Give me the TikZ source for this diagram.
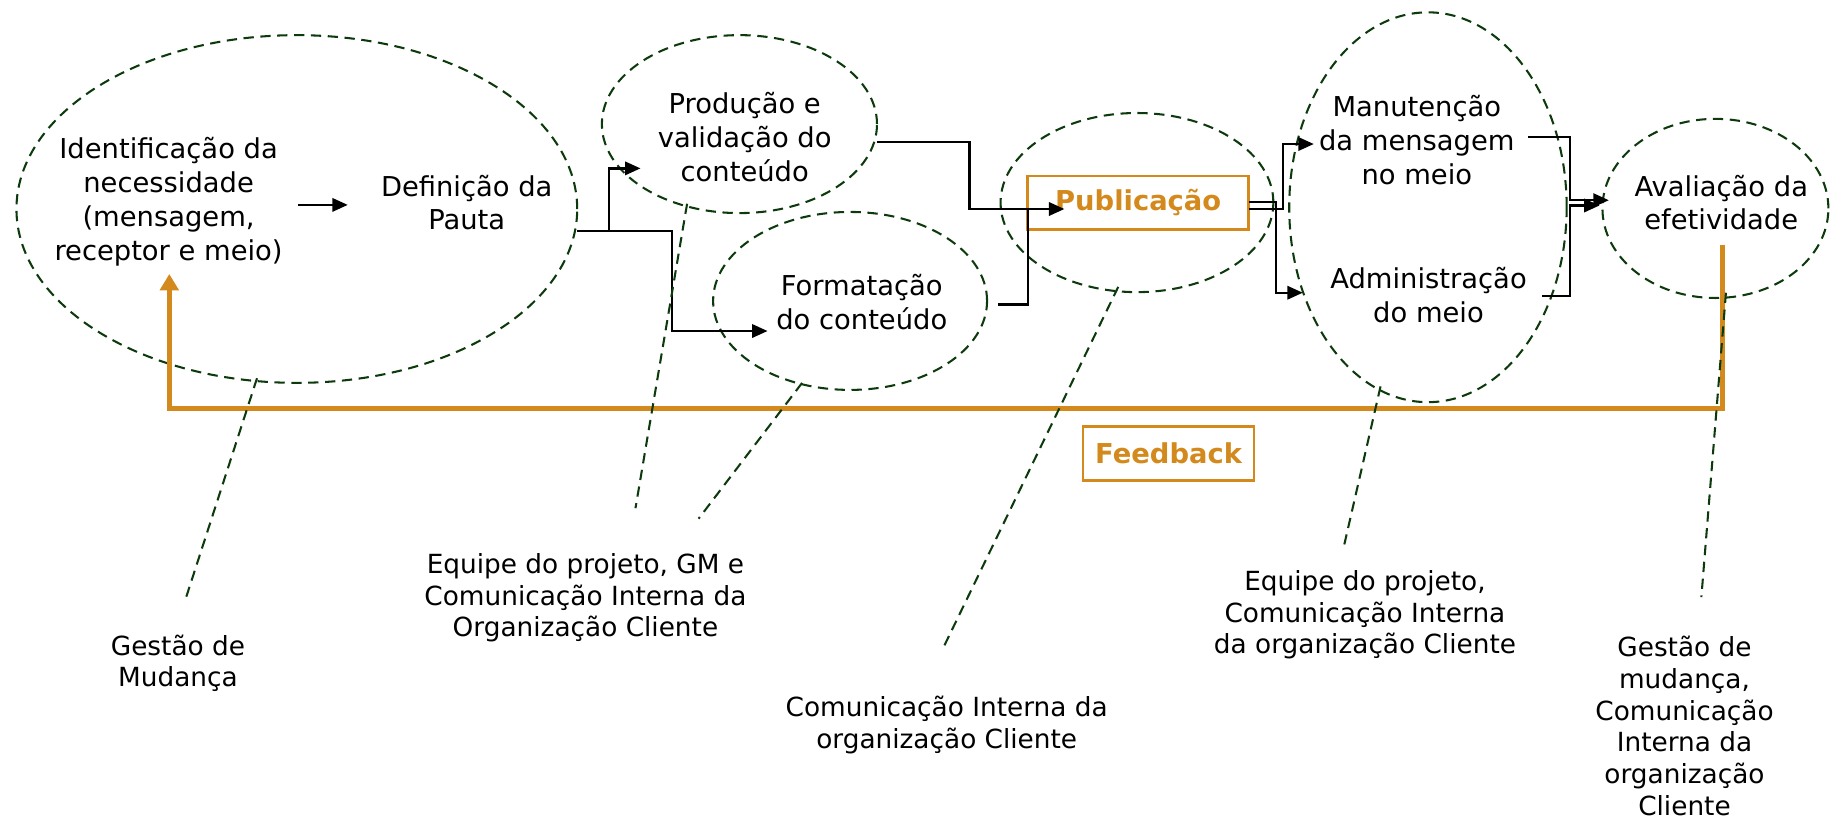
\documentclass[tikz,border=0pt]{standalone}
\usepackage{fontspec}
\setmainfont{DejaVu Sans}
\usetikzlibrary{shapes.geometric,arrows.meta}
\definecolor{orng}{RGB}{211,137,27}
\definecolor{dkgreen}{RGB}{12,58,12}
\newcommand{\topfs}{\fontsize{13.3pt}{16.5pt}\selectfont}
\newcommand{\botfs}{\fontsize{12.8pt}{15.4pt}\selectfont}
\tikzset{
  grp/.style={ellipse, draw=dkgreen, line width=1pt, dash pattern=on 5pt off 3.2pt, inner sep=0pt},
  txt/.style={align=center, inner sep=0pt, font=\topfs, text=black},
  btxt/.style={align=center, inner sep=0pt, font=\botfs, text=black},
  conn/.style={draw=black, line width=1.1pt, -{Triangle[length=7.5pt,width=6.5pt]}},
  wire/.style={draw=black, line width=1.1pt},
  lead/.style={draw=dkgreen, line width=1pt, dash pattern=on 5pt off 3.2pt},
  fbline/.style={draw=orng, line width=2.4pt, -{Triangle[length=8pt,width=9pt]}},
  obox/.style={draw=orng, line width=1.3pt, text=orng, font=\topfs\bfseries, inner sep=0pt},
}
\begin{document}
\begin{tikzpicture}[x=0.02cm,y=-0.02cm]
\useasboundingbox (0,0) rectangle (1568,699);

% group ellipses
\node[grp, minimum width=9.58cm, minimum height=5.94cm] (e1) at (253.5,178.5) {};
\node[grp, minimum width=4.70cm, minimum height=3.04cm] (e2) at (631.5,106) {};
\node[grp, minimum width=4.68cm, minimum height=3.04cm] (e3) at (726,257) {};
\node[grp, minimum width=4.66cm, minimum height=3.06cm] (e4) at (971,173) {};
\node[grp, minimum width=4.74cm, minimum height=6.66cm] (e5) at (1219.5,177) {};
\node[grp, minimum width=3.86cm, minimum height=3.06cm] (e6) at (1465,178) {};

% step texts
\node[txt] (tIdent) at (144,172) {Identificação da\\necessidade\\(mensagem,\\receptor e meio)};
\node[txt] (tDef) at (398.6,173) {Definição da\\Pauta};
\node[txt] (tProd) at (636,117) {Produção e\\validação do\\conteúdo};
\node[txt] (tForm) at (736,258) {Formatação\\do conteúdo};
\node[obox, minimum width=3.776cm, minimum height=0.91cm] (pub) at (972,173) {Publicação};
\node[txt] (tMan) at (1210,119.5) {Manutenção\\da mensagem\\no meio};
\node[txt] (tAdm) at (1220,252) {Administração\\do meio};
\node[txt] (tAval) at (1470,173) {Avaliação da\\efetividade};

% connector points
\coordinate (a1) at (254.7,175);
\coordinate (a2) at (297,175);
\coordinate (j1) at (493,197);
\coordinate (j2) at (520,197);
\coordinate (j3) at (574,197);
\coordinate (p1) at (547,143.8);
\coordinate (f1) at (655.5,282.7);
\coordinate (q1) at (749,121);
\coordinate (q2) at (828,121);
\coordinate (pin) at (909,178.5);
\coordinate (r1) at (852.6,260);
\coordinate (r2) at (877.7,178.5);
\coordinate (u1) at (1066.5,172.8);
\coordinate (u2) at (1089.8,172.8);
\coordinate (adin) at (1112.6,250);
\coordinate (w1) at (1066.5,178.5);
\coordinate (w2) at (1095.8,178.5);
\coordinate (manin) at (1122,123);
\coordinate (m1) at (1305,116.7);
\coordinate (m2) at (1341,171);
\coordinate (av1) at (1374,171);
\coordinate (d1) at (1317,252.8);
\coordinate (d2) at (1341,175.5);
\coordinate (av2) at (1366,175.5);

\draw[conn] (a1) -- (a2);
\draw[conn] (j1) -- (j3) |- (f1);
\draw[conn] (j2) |- (p1);
\draw[conn] (q1) -- (q2) |- (pin);
\draw[wire] (r1) -| (r2);
\draw[conn] (u1) -- (u2) |- (adin);
\draw[conn] (w1) -- (w2) |- (manin);
\draw[conn] (m1) -| (m2) -- (av1);
\draw[conn] (d1) -| (d2) -- (av2);

% feedback loop
\coordinate (fb0) at (1470.8,209);
\coordinate (fb1) at (1470.8,348.8);
\coordinate (fb2) at (144.6,348.8);
\coordinate (fb3) at (144.6,234);
\draw[fbline] (fb0) -- (fb1) -- (fb2) -- (fb3);
\node[obox, minimum width=2.92cm, minimum height=0.93cm] (fbbox) at (998,387.3) {Feedback};

% responsible labels
\node[btxt] (l1) at (152,566.6) {Gestão de\\Mudança};
\node[btxt] (l2) at (500,510.5) {Equipe do projeto, GM e\\Comunicação Interna da\\Organização Cliente};
\node[btxt] (l3) at (808.5,619) {Comunicação Interna da\\organização Cliente};
\node[btxt] (l4) at (1165.7,525) {Equipe do projeto,\\Comunicação Interna\\da organização Cliente};
\node[btxt] (l5) at (1438.6,620) {Gestão de\\mudança,\\Comunicação\\Interna da\\organização\\Cliente};

% leader lines
\coordinate (k1a) at (219.5,323);   \coordinate (k1b) at (159,510);
\coordinate (k2a) at (586.8,174);   \coordinate (k2b) at (542.7,434);
\coordinate (k3a) at (685,327);     \coordinate (k3b) at (596.6,443);
\coordinate (k4a) at (955,245);     \coordinate (k4b) at (805.4,553.6);
\coordinate (k5a) at (1179,330);    \coordinate (k5b) at (1147,469.7);
\coordinate (k6a) at (1474,250);    \coordinate (k6b) at (1453,510);
\draw[lead] (k1a) -- (k1b);
\draw[lead] (k2a) -- (k2b);
\draw[lead] (k3a) -- (k3b);
\draw[lead] (k4a) -- (k4b);
\draw[lead] (k5a) -- (k5b);
\draw[lead] (k6a) -- (k6b);
\end{tikzpicture}
\end{document}
